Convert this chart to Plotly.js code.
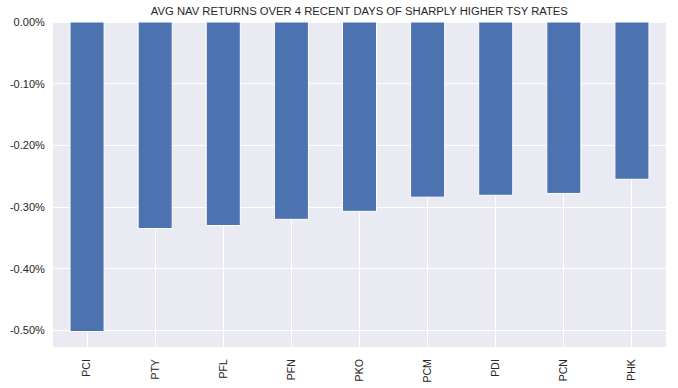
<!DOCTYPE html>
<html>
<head>
<meta charset="utf-8">
<script src="https://cdn.plot.ly/plotly-3.0.1.min.js"></script>
<style>html,body{margin:0;padding:0;background:#fff;}#chart{width:678px;height:388px;}</style>
</head>
<body>
<div id="chart"></div>
<script>
const tickers = ["PCI", "PTY", "PFL", "PFN", "PKO", "PCM", "PDI", "PCN", "PHK"];
const navReturns = [-0.00502, -0.00335, -0.00330, -0.00320, -0.00307, -0.00284, -0.00281, -0.00278, -0.00255];
const yTickVals = [0, -0.001, -0.002, -0.003, -0.004, -0.005];
const yTickText = ["0.00%", "-0.10%", "-0.20%", "-0.30%", "-0.40%", "-0.50%"];
const chartTitle = "AVG NAV RETURNS OVER 4 RECENT DAYS OF SHARPLY HIGHER TSY RATES";

const trace = {
  type: "bar",
  x: tickers,
  y: navReturns,
  marker: {color: "#4C72B0", line: {color: "#ffffff", width: 1}},
  hoverinfo: "x+y"
};

const layout = {
  width: 678,
  height: 388,
  margin: {l: 53, r: 12, t: 22, b: 41, pad: 0},
  paper_bgcolor: "#ffffff",
  plot_bgcolor: "#EAEAF2",
  bargap: 0.5,
  showlegend: false,
  font: {family: "Liberation Sans, Arial, sans-serif", size: 11, color: "#262626"},
  title: {
    text: chartTitle,
    font: {family: "Liberation Sans, Arial, sans-serif", size: 11.25, color: "#262626"},
    x: 0.53, xanchor: "center", y: 0.972, yanchor: "middle"
  },
  xaxis: {
    type: "category",
    range: [-0.5, 8.5],
    tickangle: -90,
    showgrid: true,
    gridcolor: "#ffffff",
    gridwidth: 1,
    ticks: "outside",
    ticklen: 7,
    tickcolor: "rgba(0,0,0,0)",
    zeroline: false,
    showline: false,
    automargin: false,
    tickfont: {size: 10.5, color: "#262626"}
  },
  yaxis: {
    range: [-0.00527, 0],
    tickvals: yTickVals,
    ticktext: yTickText,
    showgrid: true,
    gridcolor: "#ffffff",
    gridwidth: 1,
    zeroline: true,
    zerolinecolor: "#ffffff",
    zerolinewidth: 1,
    ticks: "outside",
    ticklen: 5,
    tickcolor: "rgba(0,0,0,0)",
    showline: false,
    automargin: false,
    tickfont: {size: 11, color: "#262626"}
  }
};

Plotly.newPlot("chart", [trace], layout, {displayModeBar: false, staticPlot: true});
</script>
</body>
</html>
